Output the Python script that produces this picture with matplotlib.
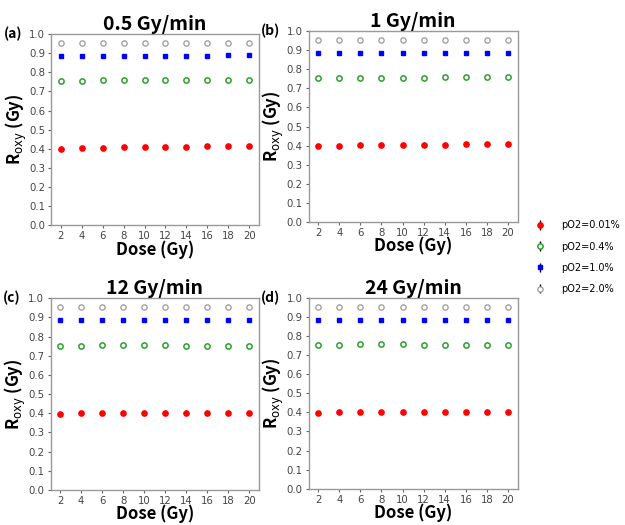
import numpy as np
import matplotlib
matplotlib.use('Agg')
import matplotlib.pyplot as plt

# данные
dose = [2, 4, 6, 8, 10, 12, 14, 16, 18, 20]
titles = ['0.5 Gy/min', '1 Gy/min', '12 Gy/min', '24 Gy/min']
panels = ['(a)', '(b)', '(c)', '(d)']
labels = ['pO2=0.01%', 'pO2=0.4%', 'pO2=1.0%', 'pO2=2.0%']

red_a = [0.397, 0.402, 0.405, 0.408, 0.408, 0.410, 0.410, 0.413, 0.413, 0.413]
green_a = [0.755, 0.757, 0.760, 0.760, 0.760, 0.760, 0.762, 0.762, 0.762, 0.762]
blue_a = [0.885, 0.887, 0.887, 0.887, 0.887, 0.887, 0.887, 0.887, 0.889, 0.889]
gray_a = [0.952, 0.952, 0.952, 0.952, 0.952, 0.952, 0.952, 0.952, 0.952, 0.952]

red_b = [0.397, 0.400, 0.402, 0.405, 0.405, 0.405, 0.405, 0.407, 0.407, 0.407]
green_b = [0.753, 0.755, 0.756, 0.756, 0.756, 0.756, 0.758, 0.758, 0.758, 0.758]
blue_b = [0.884, 0.886, 0.886, 0.886, 0.886, 0.886, 0.886, 0.886, 0.886, 0.886]
gray_b = [0.952, 0.952, 0.952, 0.952, 0.952, 0.952, 0.952, 0.952, 0.952, 0.952]

red_c = [0.397, 0.400, 0.400, 0.400, 0.402, 0.400, 0.400, 0.400, 0.400, 0.400]
green_c = [0.753, 0.753, 0.756, 0.756, 0.756, 0.756, 0.753, 0.753, 0.753, 0.753]
blue_c = [0.885, 0.885, 0.885, 0.885, 0.885, 0.885, 0.885, 0.885, 0.885, 0.885]
gray_c = [0.952, 0.952, 0.952, 0.952, 0.952, 0.952, 0.952, 0.952, 0.952, 0.952]

red_d = [0.397, 0.400, 0.400, 0.400, 0.400, 0.400, 0.400, 0.400, 0.400, 0.400]
green_d = [0.753, 0.753, 0.755, 0.755, 0.755, 0.753, 0.753, 0.753, 0.753, 0.753]
blue_d = [0.885, 0.885, 0.885, 0.885, 0.885, 0.885, 0.885, 0.885, 0.885, 0.885]
gray_d = [0.952, 0.952, 0.952, 0.952, 0.952, 0.952, 0.952, 0.952, 0.952, 0.952]

err = [0, 0, 0, 0, 0, 0, 0, 0, 0, 0]

series = [
	[red_a, green_a, blue_a, gray_a],
	[red_b, green_b, blue_b, gray_b],
	[red_c, green_c, blue_c, gray_c],
	[red_d, green_d, blue_d, gray_d],
]

# стили маркеров
styles = [
	dict(fmt='o', mfc='red', mec='red', ms=3.8),
	dict(fmt='o', mfc='white', mec='#2ca02c', ms=3.8, mew=1.1),
	dict(fmt='s', mfc='blue', mec='blue', ms=3.1),
	dict(fmt='o', mfc='white', mec='#999999', ms=3.8, mew=0.9),
]

jp = ['Noto Sans CJK JP', 'DejaVu Sans']

# [left, bottom, width, height]
boxes = [
	[0.082, 0.571, 0.332, 0.364],
	[0.494, 0.577, 0.334, 0.364],
	[0.081, 0.067, 0.333, 0.365],
	[0.494, 0.069, 0.334, 0.364],
]

fig = plt.figure(figsize=(6.25, 5.25), dpi=100)

handles = []
for k in range(4):
	ax = fig.add_axes(boxes[k])
	for s in range(4):
		h = ax.errorbar(dose, series[k][s], yerr=err, ecolor='black', elinewidth=1,
			linestyle='none', label=labels[s], **styles[s])
		if k == 0:
			handles.append(h)
	ax.set_ylim(0, 1.0)
	ax.set_yticks(np.arange(0, 1.01, 0.1))
	ax.set_xticks(dose)
	ax.tick_params(labelsize=7.3, colors='#666666', labelcolor='#444444', length=2.5, width=0.8, pad=2)
	for sp in ax.spines.values():
		sp.set_color('#999999')
		sp.set_linewidth(1)
	ax.set_title(titles[k], fontsize=14, family=jp, fontweight='bold', pad=3)
	ax.set_xlabel('Dose (Gy)', fontsize=12, family=jp, fontweight='bold', labelpad=-1)
	ax.set_ylabel(r'R$_{\rm oxy}$ (Gy)', fontsize=12, family=jp, fontweight='bold', labelpad=0)
	ax.text(-0.23, 1.0, panels[k], transform=ax.transAxes, fontsize=10,
		family=jp, fontweight='bold', ha='left', va='center')

fig.legend(handles=handles, labels=labels, loc='center left', bbox_to_anchor=(0.843, 0.51),
	frameon=False, fontsize=7, handlelength=1.0, handletextpad=1.6, labelspacing=1.15)

fig.savefig('out.png', dpi=100)
